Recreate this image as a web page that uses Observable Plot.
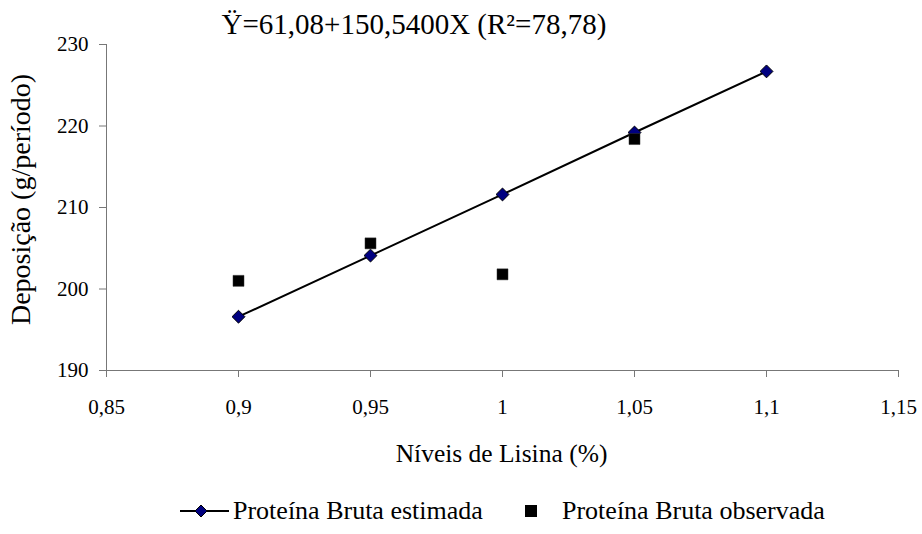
<!DOCTYPE html>
<html>
<head>
<meta charset="utf-8">
<script src="https://cdn.jsdelivr.net/npm/d3@7"></script>
<script src="https://cdn.jsdelivr.net/npm/@observablehq/plot@0.6"></script>
<style>
  body { margin: 0; background: #fff; font-family: "Liberation Serif", "Times New Roman", serif; }
  #chart { position: relative; width: 922px; }
  #legend { position: relative; width: 922px; height: 54px; font-size: 26px; color: #000; }
  #legend .item { position: absolute; top: 16px; display: flex; align-items: center; height: 30px; }
</style>
</head>
<body>
<div id="chart"></div>
<div id="legend"></div>
<script>
const niveis = [0.9, 0.95, 1.0, 1.05, 1.1];
const estimada = [196.6, 204.1, 211.6, 219.2, 226.7];
const observada = [201.0, 205.6, 201.8, 218.4];
const niveisObs = [0.9, 0.95, 1.0, 1.05];
const xTicks = [0.85, 0.9, 0.95, 1.0, 1.05, 1.1, 1.15];
const yTicks = [190, 200, 210, 220, 230];
const titulo = "Ÿ=61,08+150,5400X (R²=78,78)";
const xLabel = "Níveis de Lisina (%)";
const yLabel = "Deposição (g/período)";
const series = ["Proteína Bruta estimada", "Proteína Bruta observada"];

const est = niveis.map((x, i) => ({x, y: estimada[i]}));
const obs = niveisObs.map((x, i) => ({x, y: observada[i]}));
const fmt = d => String(d).replace(".", ",");
const axisColor = "#777";
const serif = "'Liberation Serif', 'Times New Roman', serif";

const plot = Plot.plot({
  width: 922,
  height: 480,
  marginLeft: 106,
  marginRight: 24,
  marginTop: 44,
  marginBottom: 110,
  style: { fontFamily: serif, fontSize: "21px", color: "#000", background: "#fff" },
  x: { domain: [xTicks[0], xTicks[xTicks.length - 1]] },
  y: { domain: [yTicks[0], yTicks[yTicks.length - 1]] },
  marks: [
    Plot.axisX({ ticks: xTicks, tickFormat: fmt, tickSize: 7, tickPadding: 22, stroke: axisColor, label: null, fontSize: 21, fill: "#000" }),
    Plot.axisY({ ticks: yTicks, tickSize: 7, tickPadding: 11, stroke: axisColor, label: null, fontSize: 21, fill: "#000" }),
    Plot.ruleX([xTicks[0]], { stroke: axisColor }),
    Plot.ruleY([yTicks[0]], { stroke: axisColor }),
    Plot.line(est, { x: "x", y: "y", stroke: "#000", strokeWidth: 2 }),
    Plot.dot(est, { x: "x", y: "y", symbol: "diamond2", r: 5.8, fill: "#000080", stroke: "#000", strokeWidth: 1 }),
    Plot.dot(obs, { x: "x", y: "y", symbol: "square", r: 6.2, fill: "#000", stroke: "#333", strokeWidth: 0.5 }),
    Plot.text([titulo], { text: d => d, frameAnchor: "top-left", textAnchor: "start", lineAnchor: "middle", dx: 115, dy: -20, fontSize: 29, fill: "#000" }),
    Plot.text([xLabel], { text: d => d, frameAnchor: "bottom", textAnchor: "middle", lineAnchor: "middle", dx: -1, dy: 83, fontSize: 25.5, fill: "#000" }),
    Plot.text([yLabel], { text: d => d, frameAnchor: "left", textAnchor: "middle", rotate: -90, lineAnchor: "middle", dx: -85, dy: -8, fontSize: 28, fill: "#000" })
  ]
});
document.getElementById("chart").appendChild(plot);

// Legend
const legend = document.getElementById("legend");
function item(kind, label, left) {
  const el = document.createElement("div");
  el.className = "item";
  el.style.left = left + "px";
  const ns = "http://www.w3.org/2000/svg";
  const svg = document.createElementNS(ns, "svg");
  svg.setAttribute("width", kind === "line" ? 49 : 24);
  svg.setAttribute("height", 20);
  if (kind === "line") {
    const l = document.createElementNS(ns, "line");
    l.setAttribute("x1", 0); l.setAttribute("x2", 49); l.setAttribute("y1", 10); l.setAttribute("y2", 10);
    l.setAttribute("stroke", "#000"); l.setAttribute("stroke-width", 2);
    svg.appendChild(l);
    const p = document.createElementNS(ns, "path");
    p.setAttribute("d", "M21,4L27,10L21,16L15,10Z");
    p.setAttribute("fill", "#000080"); p.setAttribute("stroke", "#000");
    svg.appendChild(p);
  } else {
    const r = document.createElementNS(ns, "rect");
    r.setAttribute("x", 6); r.setAttribute("y", 4); r.setAttribute("width", 12); r.setAttribute("height", 12);
    r.setAttribute("fill", "#000");
    svg.appendChild(r);
  }
  el.appendChild(svg);
  const t = document.createElement("span");
  t.textContent = label;
  t.style.marginLeft = kind === "line" ? "4px" : "19px";
  el.appendChild(t);
  legend.appendChild(el);
}
item("line", series[0], 180);
item("square", series[1], 519);
</script>
</body>
</html>
